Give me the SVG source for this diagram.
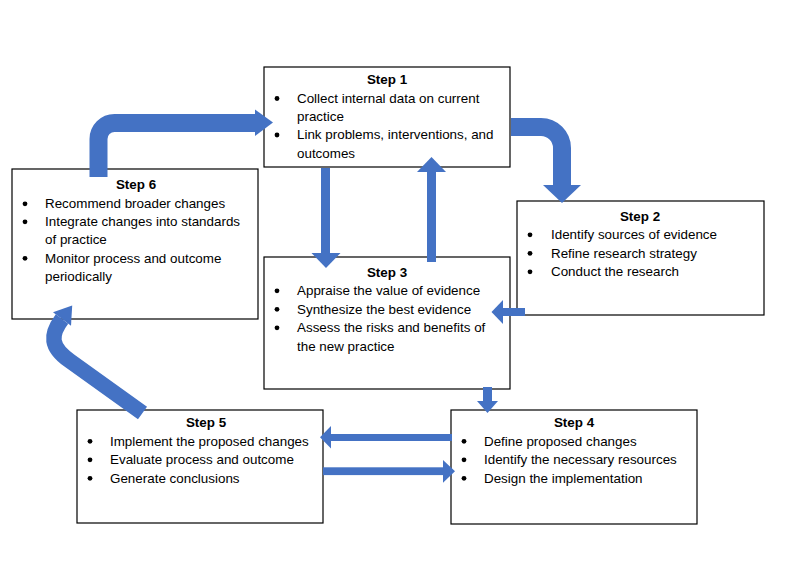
<svg xmlns="http://www.w3.org/2000/svg" width="787" height="577" viewBox="0 0 787 577">
<style>
.box{fill:#fff;stroke:#000;stroke-width:1.2}
.t{font-family:"Liberation Sans",Arial,sans-serif;font-size:13.4px;fill:#000}
.h{font-weight:bold;text-anchor:middle}
.b{fill:#000}
.ar{fill:#4472C4}
.sh{fill:none;stroke:#4472C4}
</style>
<rect width="787" height="577" fill="#fff"/>
<g id="step1">
<rect class="box" x="264" y="67" width="246" height="100"/>
<text class="t h" x="387" y="84">Step 1</text>
<circle class="b" cx="277" cy="98.5" r="2.4"/>
<text class="t" x="297" y="102.7">Collect internal data on current</text>
<text class="t" x="297" y="121">practice</text>
<circle class="b" cx="277" cy="135" r="2.4"/>
<text class="t" x="297" y="139.3">Link problems, interventions, and</text>
<text class="t" x="297" y="157.7">outcomes</text>
</g>
<g id="step2">
<rect class="box" x="517" y="201" width="247" height="114"/>
<text class="t h" x="640" y="220.5">Step 2</text>
<circle class="b" cx="530" cy="234.8" r="2.4"/>
<text class="t" x="551" y="239">Identify sources of evidence</text>
<circle class="b" cx="530" cy="253.3" r="2.4"/>
<text class="t" x="551" y="257.5">Refine research strategy</text>
<circle class="b" cx="530" cy="271.8" r="2.4"/>
<text class="t" x="551" y="276">Conduct the research</text>
</g>
<g id="step3">
<rect class="box" x="264" y="257" width="246" height="132"/>
<text class="t h" x="387" y="276.5">Step 3</text>
<circle class="b" cx="277" cy="290.8" r="2.4"/>
<text class="t" x="297" y="295">Appraise the value of evidence</text>
<circle class="b" cx="277" cy="309.3" r="2.4"/>
<text class="t" x="297" y="313.5">Synthesize the best evidence</text>
<circle class="b" cx="277" cy="327.8" r="2.4"/>
<text class="t" x="297" y="332">Assess the risks and benefits of</text>
<text class="t" x="297" y="350.5">the new practice</text>
</g>
<g id="step4">
<rect class="box" x="451" y="410" width="246" height="114"/>
<text class="t h" x="574" y="427">Step 4</text>
<circle class="b" cx="464" cy="441.3" r="2.4"/>
<text class="t" x="484" y="445.5">Define proposed changes</text>
<circle class="b" cx="464" cy="459.8" r="2.4"/>
<text class="t" x="484" y="464">Identify the necessary resources</text>
<circle class="b" cx="464" cy="478.3" r="2.4"/>
<text class="t" x="484" y="482.5">Design the implementation</text>
</g>
<g id="step5">
<rect class="box" x="77" y="410" width="246" height="113"/>
<text class="t h" x="206" y="427">Step 5</text>
<circle class="b" cx="90" cy="441.3" r="2.4"/>
<text class="t" x="110" y="445.5">Implement the proposed changes</text>
<circle class="b" cx="90" cy="459.8" r="2.4"/>
<text class="t" x="110" y="464">Evaluate process and outcome</text>
<circle class="b" cx="90" cy="478.3" r="2.4"/>
<text class="t" x="110" y="482.5">Generate conclusions</text>
</g>
<g id="step6">
<rect class="box" x="12" y="169" width="246" height="150"/>
<text class="t h" x="136" y="189">Step 6</text>
<circle class="b" cx="25" cy="203.8" r="2.4"/>
<text class="t" x="45" y="208">Recommend broader changes</text>
<circle class="b" cx="25" cy="221.8" r="2.4"/>
<text class="t" x="45" y="226">Integrate changes into standards</text>
<text class="t" x="45" y="244.3">of practice</text>
<circle class="b" cx="25" cy="258.3" r="2.4"/>
<text class="t" x="45" y="262.5">Monitor process and outcome</text>
<text class="t" x="45" y="280.8">periodically</text>
</g>
<g id="connectors">
<path class="sh" stroke-width="18" d="M98.5,177 L98.5,139 A16,16 0 0 1 114.5,123 L256,123"/>
<polygon class="ar" points="255,109.5 273,122.5 255,136"/>
<path class="sh" stroke-width="18" d="M511,127 L541,127 A21,21 0 0 1 562,148 L562,186"/>
<polygon class="ar" points="543,185 581,185 562,203"/>
<rect class="ar" x="321" y="168" width="9" height="86"/>
<polygon class="ar" points="311.5,253 340.5,253 326,268"/>
<rect class="ar" x="427" y="171" width="9" height="91"/>
<polygon class="ar" points="417,172 446,172 431.5,157"/>
<rect class="ar" x="502" y="308" width="23" height="8"/>
<polygon class="ar" points="503,300 503,324 491.5,312"/>
<rect class="ar" x="483" y="387" width="9" height="15"/>
<polygon class="ar" points="477,401 498,401 487.5,413"/>
<rect class="ar" x="330" y="434" width="122" height="7"/>
<polygon class="ar" points="331,426 331,448.5 320,437.3"/>
<rect class="ar" x="323" y="467.3" width="121" height="7.8"/>
<polygon class="ar" points="443,460 443,482.7 455,471.3"/>
<path class="sh" stroke-width="15.5" d="M142.5,413 L70,361 C50,347 50,335 62,319"/>
<polygon class="ar" points="53,312.3 71,325.7 72.2,305.4"/>
</g>
</svg>
